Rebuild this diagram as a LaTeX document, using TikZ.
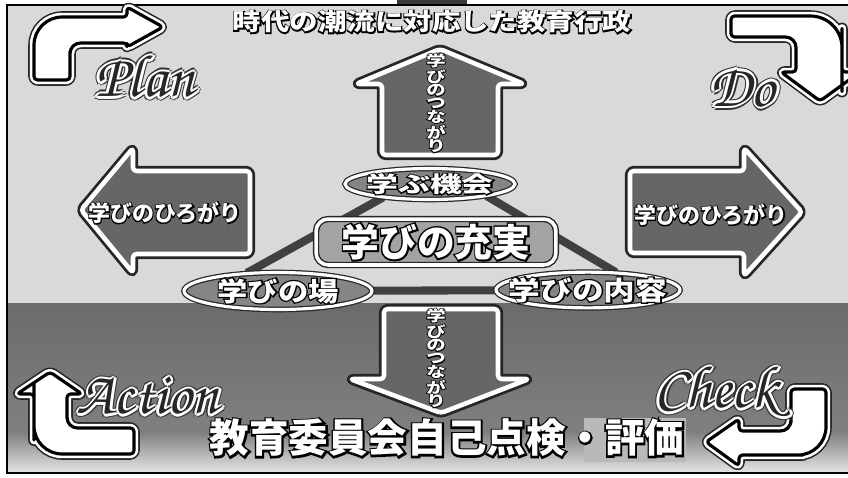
\documentclass[tikz,border=0pt]{standalone}
\usepackage[T1]{fontenc}
\usepackage{fontspec}
\usepackage{graphicx}
\newfontfamily\jp{Noto Sans CJK JP}
\newfontfamily\jpedge{Noto Sans CJK JP}[FakeBold=9, BoldFeatures={FakeBold=9}]
\usetikzlibrary{shapes.geometric}
\pgfdeclarelayer{bg}
\pgfdeclarelayer{lines}
\pgfsetlayers{bg,lines,main}

\definecolor{skyfill}{gray}{0.85}
\definecolor{groundtop}{gray}{0.42}
\definecolor{groundlow}{gray}{0.50}
\definecolor{arrowfill}{gray}{0.40}
\definecolor{ovalfill}{gray}{0.52}
\definecolor{corefill}{gray}{0.64}
\definecolor{edgegray}{gray}{0.15}

% eight copies round the text, for the script words
\newcommand{\halo}[3]{%
  \rlap{\kern#1\textcolor{#2}{#3}}%
  \rlap{\kern-#1\textcolor{#2}{#3}}%
  \rlap{\raisebox{#1}{\textcolor{#2}{#3}}}%
  \rlap{\raisebox{-#1}{\textcolor{#2}{#3}}}%
  \rlap{\kern\dimexpr#1*7/10\relax\raisebox{\dimexpr#1*7/10\relax}{\textcolor{#2}{#3}}}%
  \rlap{\kern\dimexpr#1*7/10\relax\raisebox{-\dimexpr#1*7/10\relax}{\textcolor{#2}{#3}}}%
  \rlap{\kern-\dimexpr#1*7/10\relax\raisebox{\dimexpr#1*7/10\relax}{\textcolor{#2}{#3}}}%
  \rlap{\kern-\dimexpr#1*7/10\relax\raisebox{-\dimexpr#1*7/10\relax}{\textcolor{#2}{#3}}}}
% white lettering on a stroked black copy
\newcommand{\wtxt}[1]{\rlap{\jpedge\bfseries\textcolor{black}{#1}}\textcolor{white}{#1}}
\newcommand{\stxt}[1]{\halo{2.2pt}{black!80}{#1}\halo{1.4pt}{white}{#1}\textcolor{black!85}{#1}}
\newcommand{\vch}[1]{\scalebox{1.3}[1]{\wtxt{#1}}}
\newcommand{\script}{\fontencoding{T1}\fontfamily{pzc}\fontseries{mb}\fontshape{it}\fontsize{34}{34}\selectfont}

\begin{document}
\begin{tikzpicture}[x=0.02cm, y=-0.02cm]
\tikzset{bigarrow/.style={fill=arrowfill, draw=white, line width=2.6pt, line join=round,
    preaction={draw=edgegray, line width=5.8pt, line join=round}}}
\tikzset{cornerarrow/.style={fill=white, draw=black, line width=1.8pt, line join=round,
    preaction={draw=edgegray, line width=6.6pt, line join=round},
    preaction={draw=white, line width=4.8pt, line join=round}}}
\tikzset{oval/.style={ellipse, fill=ovalfill, draw=edgegray, line width=.7pt, double=white, double distance=1.8pt, inner sep=0pt}}
\tikzset{word/.style={inner sep=0pt, font=\jp\bfseries}}
\tikzset{tri/.style={draw=black!75, line width=4.6pt}}

\useasboundingbox (0,0) rectangle (848,477);
\begin{pgfonlayer}{bg}
\fill[white] (0,0) rectangle (848,477);
\fill[skyfill] (7,5) rectangle (848,303);
\shade[top color=groundtop, bottom color=groundlow] (7,303) rectangle (848,432);
\shade[top color=groundlow, bottom color=gray!20] (7,432) rectangle (848,473);
\fill[gray!45!black] (397,0) rectangle (467,6);
\draw[line width=1.6pt] (848,5) -- (7,5) -- (7,473) -- (848,473);
\end{pgfonlayer}

% big arrows
\draw[bigarrow, rounded corners=2pt] (382,155) -- (382,84) -- (356,84) -- (440,49) -- (524,84) -- (498,84) -- (498,155) -- cycle;
\draw[bigarrow, rounded corners=2pt] (384,309) -- (384,379) -- (350,379) -- (441,413) -- (529,379) -- (498,379) -- (498,309) -- cycle;
\draw[bigarrow, rounded corners=2pt] (250,171) -- (133,171) -- (133,148) -- (81,210) -- (133,273) -- (133,254) -- (250,254) -- cycle;
\draw[bigarrow, rounded corners=2pt] (630,171) -- (744,171) -- (744,148) -- (802,212) -- (744,276) -- (744,253) -- (630,253) -- cycle;

% corner arrows
\draw[cornerarrow, rounded corners=2pt] (34,80) -- (34,60) [rounded corners=16pt] -- (34,17) -- (95,17) [rounded corners=2pt] -- (127,17) -- (127,7) -- (163,27) -- (127,47) -- (127,43) -- (90,43) [rounded corners=6pt] -- (70,43) -- (70,62) [rounded corners=2pt] -- (70,80) -- cycle;
\draw[cornerarrow, rounded corners=2pt] (731,37) -- (731,16) -- (790,16) [rounded corners=18pt] -- (842,16) -- (842,60) [rounded corners=2pt] -- (842,72) -- (860,72) -- (820,101) -- (781,72) -- (796,72) -- (796,58) [rounded corners=6pt] -- (796,37) -- (770,37) [rounded corners=2pt] -- cycle;
\draw[cornerarrow, rounded corners=2pt] (17,394) -- (50,372) -- (82,394) -- (67,394) -- (67,410) [rounded corners=6pt] -- (67,428) -- (90,428) [rounded corners=2pt] -- (134,428) -- (134,454) -- (90,454) [rounded corners=16pt] -- (34,454) -- (34,412) [rounded corners=2pt] -- (34,394) -- cycle;
\draw[cornerarrow, rounded corners=2pt] (791,389) -- (826,389) -- (826,412) [rounded corners=16pt] -- (826,455) -- (775,455) [rounded corners=2pt] -- (739,455) -- (739,466) -- (706,442) -- (739,419) -- (739,431) -- (770,431) [rounded corners=6pt] -- (791,431) -- (791,412) [rounded corners=2pt] -- cycle;

% centre
\node[oval, minimum width=3.4cm, minimum height=0.62cm, font=\jp\bfseries\fontsize{12.5}{12.5}\selectfont] (kikai) at (430,184) {\makebox[0pt]{\scalebox{1.45}[1]{\wtxt{学ぶ機会}}}};
\node[oval, minimum width=3.76cm, minimum height=0.74cm, font=\jp\bfseries\fontsize{15}{15}\selectfont] (ba) at (278,291) {\makebox[0pt]{\scalebox{1.15}[1]{\wtxt{学びの場}}}};
\node[oval, minimum width=3.68cm, minimum height=0.7cm, font=\jp\bfseries\fontsize{15}{15}\selectfont] (naiyou) at (588,290) {\makebox[0pt]{\scalebox{1.2}[1]{\wtxt{学びの内容}}}};
\node[rectangle, rounded corners=7pt, fill=corefill, draw=edgegray, line width=.8pt, double=white, double distance=2pt,
      minimum width=4.8cm, minimum height=0.92cm, inner sep=0pt, font=\jp\bfseries\fontsize{21.5}{21.5}\selectfont] (juujitsu) at (436,242) {\wtxt{学びの充実}};

\begin{pgfonlayer}{lines}
\path (kikai.196) edge[tri] (ba.150);
\path (kikai.-12) edge[tri] (naiyou.32);
\path (ba) edge[tri] (naiyou);
\end{pgfonlayer}

% texts
\node[word, font=\jp\bfseries\fontsize{13.5}{13.5}\selectfont] (title) at (432,22) {\scalebox{1.2}[1]{\wtxt{時代の潮流に対応した教育行政}}};
\fill[gray!55] (584,418) rectangle (686,462);
\node[word, font=\jp\bfseries\fontsize{22.5}{22.5}\selectfont] (review) at (447,438) {\wtxt{教育委員会自己点検・評価}};
\node[word, font=\jp\bfseries\fontsize{12.5}{12.5}\selectfont] (widenL) at (165,213) {\wtxt{学びのひろがり}};
\node[word, font=\jp\bfseries\fontsize{12.5}{12.5}\selectfont] (widenR) at (711,215) {\wtxt{学びのひろがり}};
\node[word, align=center, font=\jp\bfseries\fontsize{8.5}{7.6}\selectfont] (linkUp) at (436,103)
  {\vch{学}\\\vch{び}\\\vch{の}\\\vch{つ}\\\vch{な}\\\vch{が}\\\vch{り}};
\node[word, align=center, font=\jp\bfseries\fontsize{8.5}{7.6}\selectfont] (linkDown) at (436,358)
  {\vch{学}\\\vch{び}\\\vch{の}\\\vch{つ}\\\vch{な}\\\vch{が}\\\vch{り}};

\node[inner sep=0pt, font=\script] (plan) at (145,76) {\stxt{Plan}};
\node[inner sep=0pt, font=\script] (do) at (742,87) {\stxt{Do}};
\node[inner sep=0pt, font=\script] (action) at (148,396) {\stxt{Action}};
\node[inner sep=0pt, font=\script] (check) at (716,392) {\stxt{Check}};
\end{tikzpicture}
\end{document}
